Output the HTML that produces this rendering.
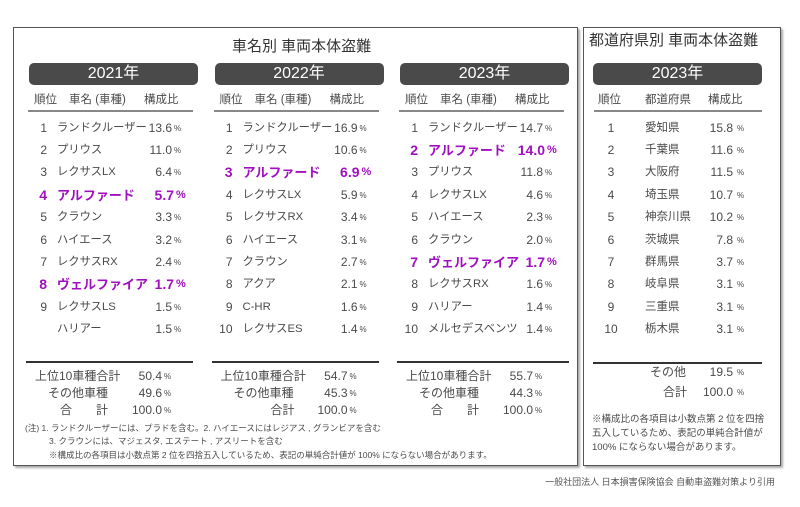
<!DOCTYPE html>
<html><head><meta charset="utf-8">
<style>
body{margin:0;width:800px;height:507px;background:#fff;position:relative;overflow:hidden;font-family:"Liberation Sans","Noto Sans CJK JP",sans-serif;color:#4a4a4a}
.a{position:absolute;white-space:nowrap;line-height:1}
.box{position:absolute;border:1.5px solid #555;box-shadow:2px 2px 2px #aaa;background:#fff}
.hd{position:absolute;background:#4a4a4a;border-radius:5px;color:#fff;font-size:16px;text-align:center;line-height:22px;height:22px}
.ln{position:absolute;height:2px;background:#888}
.bl{position:absolute;height:1.5px;background:#333}
</style></head><body>
<div class="box" style="left:13px;top:27px;width:563px;height:437px"></div>
<div class="box" style="left:583px;top:27px;width:196px;height:437px"></div>
<div class="a" style="left:232px;top:39px;font-size:15px;color:#333">車名別 車両本体盗難</div>
<div class="a" style="left:589px;top:33px;font-size:15px;color:#333">都道府県別 車両本体盗難</div>
<div id="c"></div>
<div class="a" style="left:25px;top:424px;font-size:8.5px">(注) 1. ランドクルーザーには、プラドを含む。2. ハイエースにはレジアス , グランビアを含む</div>
<div class="a" style="left:49px;top:437px;font-size:8.5px">3. クラウンには、マジェスタ, エステート , アスリートを含む</div>
<div class="a" style="left:49px;top:451px;font-size:8.5px">※構成比の各項目は小数点第 2 位を四捨五入しているため、表記の単純合計値が 100% にならない場合があります。</div>
<div class="a" style="left:592px;top:413px;font-size:9.5px;line-height:14px">※構成比の各項目は小数点第 2 位を四捨<br>五入しているため、表記の単純合計値が<br>100% にならない場合があります。</div>
<div class="a" style="right:25px;top:478px;font-size:9px;color:#555">一般社団法人 日本損害保険協会 自動車盗難対策より引用</div>
<script>
var c=document.getElementById('c'),h='';
function t(x,y,s,st){h+='<div class="a" style="left:'+x+'px;top:'+y+'px;'+(st||'')+'">'+s+'</div>';}
function r(x,y,s,st){h+='<div class="a" style="right:'+(800-x)+'px;top:'+y+'px;'+(st||'')+'">'+s+'</div>';}
var rows=[128,150,172,195,217,240,262,284,307,329];
var D=[
[["1","ランドクルーザー","13.6"],["2","プリウス","11.0"],["3","レクサスLX","6.4"],["4","アルファード","5.7",1],["5","クラウン","3.3"],["6","ハイエース","3.2"],["7","レクサスRX","2.4"],["8","ヴェルファイア","1.7",1],["9","レクサスLS","1.5"],["","ハリアー","1.5"]],
[["1","ランドクルーザー","16.9"],["2","プリウス","10.6"],["3","アルファード","6.9",1],["4","レクサスLX","5.9"],["5","レクサスRX","3.4"],["6","ハイエース","3.1"],["7","クラウン","2.7"],["8","アクア","2.1"],["9","C-HR","1.6"],["10","レクサスES","1.4"]],
[["1","ランドクルーザー","14.7"],["2","アルファード","14.0",1],["3","プリウス","11.8"],["4","レクサスLX","4.6"],["5","ハイエース","2.3"],["6","クラウン","2.0"],["7","ヴェルファイア","1.7",1],["8","レクサスRX","1.6"],["9","ハリアー","1.4"],["10","メルセデスベンツ","1.4"]]];
var yrs=["2021年","2022年","2023年"];
var S=[["50.4","49.6","100.0"],["54.7","45.3","100.0"],["55.7","44.3","100.0"]];
for(var i=0;i<3;i++){var o=i*185.5;
h+='<div class="hd" style="left:'+(29+o)+'px;top:63px;width:169px">'+yrs[i]+'</div>';
t(34+o,95,'順位',"font-size:11.5px");t(69+o,95,'車名 (車種)',"font-size:11.5px");t(144+o,95,'構成比',"font-size:11.5px");
h+='<div class="ln" style="left:'+(28+o)+'px;top:110px;width:165px"></div>';
for(var j=0;j<10;j++){var d=D[i][j],y=rows[j]-6,p=d[3];
var st=p?"font-size:14px;color:#a010c0;font-weight:bold;":"font-size:12px;";
var nst=p?"font-size:13px;color:#a010c0;font-weight:bold;":"font-size:11.3px;";
r(47+o,y-(p?1:0),d[0],st);t(57+o,y-(p?0:-1),d[1],nst);
r(172+o+(p?2:0),y-(p?1:0),d[2],st);t(174+o+(p?2:0),y+(p?1:3),'%',"font-size:"+(p?11:8)+"px;"+(p?"color:#a010c0;font-weight:bold":""));}
h+='<div class="bl" style="left:'+(26+o)+'px;top:361px;width:'+(i==2?172:167)+'px"></div>';
var L=[[35,'上位10車種合計'],[48,'その他車種'],[60,'合　　計']];
for(var k=0;k<3;k++){var y=370+k*17;t(L[k][0]+o,y,i==1&&k==2?'<span style="margin-left:25px">合計</span>':L[k][1],"font-size:12px");r(162+o,y,S[i][k],"font-size:12px");t(164+o,y+3,'%',"font-size:8px");}
}
h+='<div class="hd" style="left:593px;top:63px;width:169px">2023年</div>';
t(598,95,'順位',"font-size:11.5px");t(645,95,'都道府県',"font-size:11.5px");t(708,95,'構成比',"font-size:11.5px");
h+='<div class="ln" style="left:594px;top:110px;width:168px"></div>';
var P=[["愛知県","15.8"],["千葉県","11.6"],["大阪府","11.5"],["埼玉県","10.7"],["神奈川県","10.2"],["茨城県","7.8"],["群馬県","3.7"],["岐阜県","3.1"],["三重県","3.1"],["栃木県","3.1"]];
for(var j=0;j<10;j++){var y=rows[j]-6;h+='<div class="a" style="left:600px;width:22px;text-align:center;top:'+y+'px;font-size:12px">'+(j+1)+'</div>';
t(645,y+1,P[j][0],"font-size:11.5px");r(733,y,P[j][1],"font-size:12px");t(737,y+3,'%',"font-size:8px");}
h+='<div class="bl" style="left:593px;top:362px;width:169px"></div>';
t(650,366,'その他',"font-size:12px");r(733,366,'19.5',"font-size:12px");t(737,369,'%',"font-size:8px");
t(663,386,'合計',"font-size:12px");r(733,386,'100.0',"font-size:12px");t(737,389,'%',"font-size:8px");
c.innerHTML=h;
</script>
</body></html>
